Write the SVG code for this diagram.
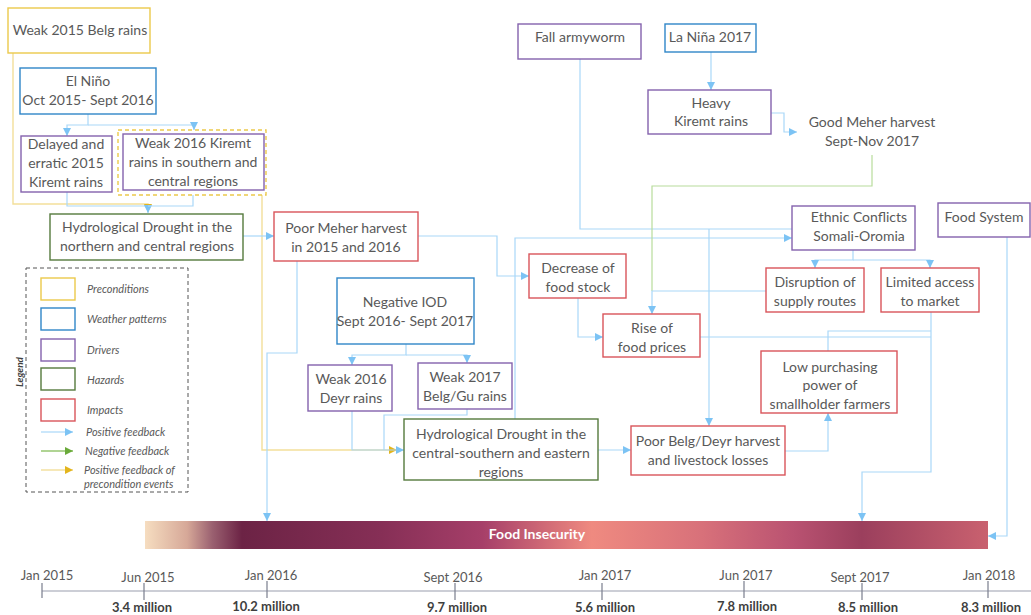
<svg xmlns="http://www.w3.org/2000/svg" width="1031" height="615" viewBox="0 0 1031 615">
  <defs>
    <style>
      .box { fill: #ffffff; stroke-width: 1.4; }
      .pre { stroke: #ecc94b; }
      .wea { stroke: #2f86c8; }
      .drv { stroke: #8462ad; }
      .haz { stroke: #557a3d; }
      .imp { stroke: #d9545a; }
      .t { font-family: Lato, "Open Sans", sans-serif; font-size: 14px; fill: #595959; text-anchor: middle; }
      .c { fill: none; stroke: #a9d8f8; stroke-width: 1.2; }
      .cy { fill: none; stroke: #f3df9a; stroke-width: 1.4; }
      .cg { fill: none; stroke: #b8dc9c; stroke-width: 1.2; }
      .lg { font-family: Lato, "Open Sans", sans-serif; font-size: 11px; font-style: italic; fill: #595959; }
      .date { font-family: Lato, "Open Sans", sans-serif; font-size: 13px; fill: #595959; text-anchor: middle; }
      .mil { font-family: Lato, "Open Sans", sans-serif; font-size: 13px; font-weight: bold; fill: #3f3f3f; text-anchor: middle; }
    </style>
    <marker id="ab" markerUnits="userSpaceOnUse" markerWidth="9" markerHeight="9" refX="8" refY="4" orient="auto">
      <path d="M0,0 L8,4 L0,8 z" fill="#7cc3f4"/>
    </marker>
    <marker id="ay" markerUnits="userSpaceOnUse" markerWidth="9" markerHeight="9" refX="8" refY="4" orient="auto">
      <path d="M0,0 L8,4 L0,8 z" fill="#e3b51c"/>
    </marker>
    <marker id="ag" markerUnits="userSpaceOnUse" markerWidth="9" markerHeight="9" refX="8" refY="4" orient="auto">
      <path d="M0,0 L8,4 L0,8 z" fill="#6aaa3a"/>
    </marker>
    <linearGradient id="fi" x1="145" y1="0" x2="988" y2="0" gradientUnits="userSpaceOnUse">
      <stop offset="0" stop-color="#f6ddc0"/>
      <stop offset="0.05" stop-color="#d6a898"/>
      <stop offset="0.08" stop-color="#9a6070"/>
      <stop offset="0.115" stop-color="#6c2345"/>
      <stop offset="0.28" stop-color="#862f56"/>
      <stop offset="0.40" stop-color="#a63f69"/>
      <stop offset="0.53" stop-color="#ef8a80"/>
      <stop offset="0.66" stop-color="#d8717a"/>
      <stop offset="0.77" stop-color="#b95271"/>
      <stop offset="0.85" stop-color="#9b3f5d"/>
      <stop offset="1" stop-color="#c9616f"/>
    </linearGradient>
  </defs>

  <rect width="1031" height="615" fill="#ffffff"/>

  <!-- connectors -->
  <g id="connectors">
    <!-- precondition feedback (yellow) -->
    <path class="cy" d="M13,53 V204 H148 V212" marker-end="url(#ay)"/>
    <path class="cy" d="M262,195 V450 H397" marker-end="url(#ay)"/>
    <!-- El Nino to rains -->
    <path class="c" d="M88,114 V125 H67 V136" marker-end="url(#ab)"/>
    <path class="c" d="M88,125 H194 V130" marker-end="url(#ab)"/>
    <!-- rains to northern drought -->
    <path class="c" d="M67,192 V206 H148 V213" marker-end="url(#ab)"/>
    <path class="c" d="M193,195 V206 H148"/>
    <!-- northern drought to poor Meher harvest -->
    <path class="c" d="M243,236 H274" marker-end="url(#ab)"/>
    <!-- poor Meher harvest to food insecurity -->
    <path class="c" d="M297,261 V353 H267 V521" marker-end="url(#ab)"/>
    <!-- poor Meher harvest to food stock -->
    <path class="c" d="M418,236 H497 V276 H529" marker-end="url(#ab)"/>
    <!-- negative IOD to rains -->
    <path class="c" d="M406,344 V355 H352 V365" marker-end="url(#ab)"/>
    <path class="c" d="M406,355 H467 V363" marker-end="url(#ab)"/>
    <!-- rains to central-southern drought -->
    <path class="c" d="M352,411 V450 H404" marker-end="url(#ab)"/>
    <path class="c" d="M467,409 V415 H384 V450"/>
    <!-- central-southern drought to ethnic conflicts -->
    <path class="c" d="M515,419 V238 H792" marker-end="url(#ab)"/>
    <!-- fall armyworm -->
    <path class="c" d="M580,59 V229 H792"/>
    <path class="c" d="M709,229 V426" marker-end="url(#ab)"/>
    <!-- La Nina / heavy rains -->
    <path class="c" d="M711,52 V90" marker-end="url(#ab)"/>
    <path class="c" d="M771,113 H784 V132 H797" marker-end="url(#ab)"/>
    <!-- good harvest (negative feedback) -->
    <path class="cg" d="M872,155 V186 H652 V291"/>
    <!-- ethnic conflicts to impacts -->
    <path class="c" d="M853,250 V260 H815 V268" marker-end="url(#ab)"/>
    <path class="c" d="M853,260 H930 V268" marker-end="url(#ab)"/>
    <!-- food stock / supply routes to food prices -->
    <path class="c" d="M578,298 V337 H603" marker-end="url(#ab)"/>
    <path class="c" d="M766,291 H652 V314" marker-end="url(#ab)"/>
    <!-- central-southern drought to Belg/Deyr harvest -->
    <path class="c" d="M598,450 H631" marker-end="url(#ab)"/>
    <!-- harvest losses to purchasing power -->
    <path class="c" d="M785,451 H828 V413" marker-end="url(#ab)"/>
    <!-- prices, purchasing power, market access to food insecurity -->
    <path class="c" d="M700,337 H931"/>
    <path class="c" d="M828,351 V331 H931"/>
    <path class="c" d="M931,312 V472 H862 V521" marker-end="url(#ab)"/>
    <!-- food system -->
    <path class="c" d="M1007,237 V536 H988" marker-end="url(#ab)"/>
  </g>

  <!-- nodes -->
  <g id="weak-2015-belg">
    <rect class="box pre" x="8" y="8" width="142" height="45"/>
    <text class="t" x="80" y="35">Weak 2015 Belg rains</text>
  </g>
  <g id="el-nino">
    <rect class="box wea" x="20" y="68" width="136" height="46"/>
    <text class="t" x="88" y="86">El Niño</text>
    <text class="t" x="88" y="105">Oct 2015- Sept 2016</text>
  </g>
  <g id="delayed-kiremt">
    <rect class="box drv" x="21" y="136" width="91" height="56"/>
    <text class="t" x="66" y="149">Delayed and</text>
    <text class="t" x="66" y="168">erratic 2015</text>
    <text class="t" x="66" y="187">Kiremt rains</text>
  </g>
  <g id="weak-2016-kiremt">
    <rect x="118" y="130" width="148" height="65" fill="none" stroke="#ecc94b" stroke-width="1.4" stroke-dasharray="4,3"/>
    <rect class="box drv" x="123" y="134" width="141" height="56"/>
    <text class="t" x="193" y="148">Weak 2016 Kiremt</text>
    <text class="t" x="193" y="167">rains in southern and</text>
    <text class="t" x="193" y="186">central regions</text>
  </g>
  <g id="drought-north">
    <rect class="box haz" x="50" y="214" width="193" height="46"/>
    <text class="t" x="147" y="232">Hydrological Drought in the</text>
    <text class="t" x="147" y="251">northern and central regions</text>
  </g>
  <g id="poor-meher">
    <rect class="box imp" x="274" y="212" width="144" height="49"/>
    <text class="t" x="346" y="233">Poor Meher harvest</text>
    <text class="t" x="346" y="252">in 2015 and 2016</text>
  </g>
  <g id="negative-iod">
    <rect class="box wea" x="337" y="278" width="137" height="66"/>
    <text class="t" x="405" y="307">Negative IOD</text>
    <text class="t" x="405" y="326">Sept 2016- Sept 2017</text>
  </g>
  <g id="weak-2016-deyr">
    <rect class="box drv" x="308" y="365" width="84" height="46"/>
    <text class="t" x="351" y="384">Weak 2016</text>
    <text class="t" x="351" y="403">Deyr rains</text>
  </g>
  <g id="weak-2017-belg">
    <rect class="box drv" x="418" y="363" width="94" height="46"/>
    <text class="t" x="465" y="382">Weak 2017</text>
    <text class="t" x="465" y="401">Belg/Gu rains</text>
  </g>
  <g id="drought-central-south">
    <rect class="box haz" x="404" y="419" width="194" height="61"/>
    <text class="t" x="501" y="439">Hydrological Drought in the</text>
    <text class="t" x="501" y="458">central-southern and eastern</text>
    <text class="t" x="501" y="477">regions</text>
  </g>
  <g id="fall-armyworm">
    <rect class="box drv" x="518" y="24" width="123" height="35"/>
    <text class="t" x="580" y="42">Fall armyworm</text>
  </g>
  <g id="la-nina">
    <rect class="box wea" x="665" y="24" width="91" height="28"/>
    <text class="t" x="710" y="42">La Niña 2017</text>
  </g>
  <g id="heavy-kiremt">
    <rect class="box drv" x="648" y="90" width="123" height="44"/>
    <text class="t" x="711" y="108">Heavy</text>
    <text class="t" x="711" y="126">Kiremt rains</text>
  </g>
  <g id="good-meher">
    <text class="t" x="872" y="127">Good Meher harvest</text>
    <text class="t" x="872" y="146">Sept-Nov 2017</text>
  </g>
  <g id="ethnic-conflicts">
    <rect class="box drv" x="792" y="206" width="123" height="44"/>
    <text class="t" x="859" y="222">Ethnic Conflicts</text>
    <text class="t" x="859" y="241">Somali-Oromia</text>
  </g>
  <g id="food-system">
    <rect class="box drv" x="938" y="203" width="92" height="34"/>
    <text class="t" x="984" y="222">Food System</text>
  </g>
  <g id="disruption">
    <rect class="box imp" x="766" y="268" width="98" height="44"/>
    <text class="t" x="815" y="287">Disruption of</text>
    <text class="t" x="815" y="306">supply routes</text>
  </g>
  <g id="limited-access">
    <rect class="box imp" x="881" y="268" width="98" height="44"/>
    <text class="t" x="930" y="287">Limited access</text>
    <text class="t" x="930" y="306">to market</text>
  </g>
  <g id="food-stock">
    <rect class="box imp" x="529" y="254" width="97" height="44"/>
    <text class="t" x="578" y="273">Decrease of</text>
    <text class="t" x="578" y="292">food stock</text>
  </g>
  <g id="food-prices">
    <rect class="box imp" x="603" y="314" width="97" height="43"/>
    <text class="t" x="652" y="333">Rise of</text>
    <text class="t" x="652" y="352">food prices</text>
  </g>
  <g id="purchasing-power">
    <rect class="box imp" x="761" y="351" width="136" height="62"/>
    <text class="t" x="830" y="372">Low purchasing</text>
    <text class="t" x="830" y="390">power of</text>
    <text class="t" x="830" y="409">smallholder farmers</text>
  </g>
  <g id="belg-deyr-harvest">
    <rect class="box imp" x="631" y="426" width="154" height="49"/>
    <text class="t" x="708" y="446">Poor Belg/Deyr harvest</text>
    <text class="t" x="708" y="465">and livestock losses</text>
  </g>

  <!-- food insecurity bar -->
  <g id="food-insecurity">
    <rect x="145" y="521" width="843" height="28" fill="url(#fi)"/>
    <text x="537" y="539" font-family="Lato, 'Open Sans', sans-serif" font-size="14" font-weight="bold" fill="#ffffff" text-anchor="middle">Food Insecurity</text>
  </g>

  <!-- legend -->
  <g id="legend">
    <rect x="26" y="268" width="162" height="224" fill="none" stroke="#555555" stroke-width="1" stroke-dasharray="4,3"/>
    <text x="23" y="372" transform="rotate(-90 23 372)" text-anchor="middle" font-family="Lato, 'Open Sans', sans-serif" font-size="10" font-weight="bold" font-style="italic" fill="#404040">Legend</text>
    <rect class="box pre" x="41" y="278" width="34" height="22"/>
    <rect class="box wea" x="41" y="308" width="34" height="22"/>
    <rect class="box drv" x="41" y="339" width="34" height="22"/>
    <rect class="box haz" x="41" y="368" width="34" height="22"/>
    <rect class="box imp" x="41" y="399" width="34" height="22"/>
    <text class="lg" x="87" y="293">Preconditions</text>
    <text class="lg" x="87" y="323">Weather patterns</text>
    <text class="lg" x="87" y="354">Drivers</text>
    <text class="lg" x="87" y="384">Hazards</text>
    <text class="lg" x="87" y="414">Impacts</text>
    <path class="c" d="M41,432 H73" marker-end="url(#ab)"/>
    <path d="M41,451 H73" fill="none" stroke="#7cb84e" stroke-width="1.2" marker-end="url(#ag)"/>
    <path class="cy" d="M41,470 H73" marker-end="url(#ay)"/>
    <text class="lg" x="86" y="436">Positive feedback</text>
    <text class="lg" x="85" y="455">Negative feedback</text>
    <text class="lg" x="84" y="474">Positive feedback of</text>
    <text class="lg" x="84" y="488">precondition events</text>
  </g>

  <!-- timeline -->
  <g id="timeline">
    <path d="M42,591 H1031" stroke="#9a9eae" stroke-width="1.2" fill="none"/>
    <path d="M42,583 V598 M144,583 V600 M267,581 V598 M455,583 V600 M602,583 V600 M744,581 V598 M862,583 V600 M988,581 V598" stroke="#7a7e8e" stroke-width="1.2" fill="none"/>
    <text class="date" x="47" y="580">Jan 2015</text>
    <text class="date" x="148" y="582">Jun 2015</text>
    <text class="date" x="271" y="580">Jan 2016</text>
    <text class="date" x="453" y="582">Sept 2016</text>
    <text class="date" x="605" y="580">Jan 2017</text>
    <text class="date" x="746" y="580">Jun 2017</text>
    <text class="date" x="860" y="582">Sept 2017</text>
    <text class="date" x="989" y="580">Jan 2018</text>
    <text class="mil" x="142" y="612">3.4 million</text>
    <text class="mil" x="266" y="611">10.2 million</text>
    <text class="mil" x="457" y="612">9.7 million</text>
    <text class="mil" x="605" y="612">5.6 million</text>
    <text class="mil" x="747" y="611">7.8 million</text>
    <text class="mil" x="868" y="612">8.5 million</text>
    <text class="mil" x="991" y="612">8.3 million</text>
  </g>
</svg>
